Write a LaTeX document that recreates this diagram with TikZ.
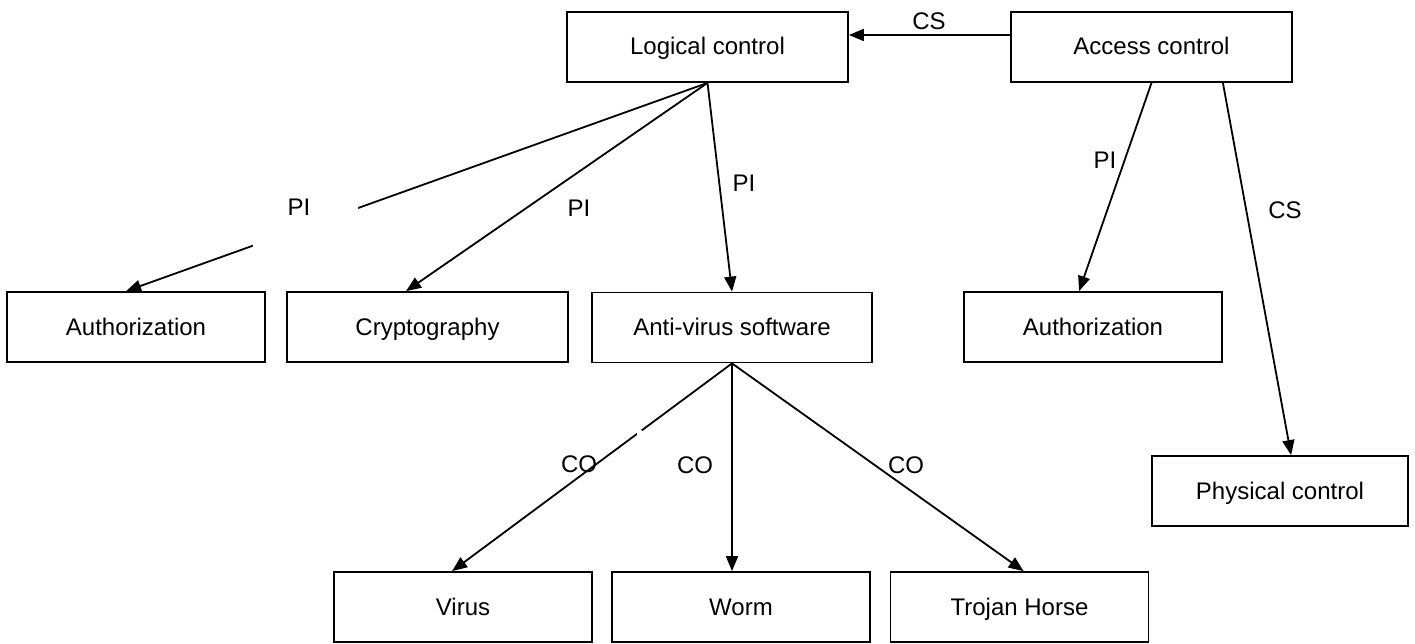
\documentclass[tikz,border=0pt]{standalone}
\usepackage{fontspec}
\setmainfont{Liberation Sans}
\usetikzlibrary{arrows.meta,calc}
\begin{document}
\begin{tikzpicture}[x=1pt,y=-1pt,
  box/.style={draw,line width=1.8pt,inner sep=0pt,minimum height=70pt,text height=19pt,text depth=3pt,font=\fontsize{24}{28}\selectfont},
  lbl/.style={inner sep=0pt,font=\fontsize{24}{28}\selectfont},
  arr/.style={line width=1.8pt,-{Triangle[length=15pt,width=12pt]}}]
\useasboundingbox[fill=white] (0,0) rectangle (1415,644);
% boxes
\node[box,minimum width=281pt] (lc) at (707.5,47) {Logical control};
\node[box,minimum width=281pt] (ac) at (1151.5,47) {Access control};
\node[box,minimum width=258pt] (aL) at (136,327) {Authorization};
\node[box,minimum width=281pt] (cr) at (427.5,327) {Cryptography};
\node[box,minimum width=280pt] (av) at (732,327.5) {Anti-virus software};
\node[box,minimum width=258pt] (aR) at (1093,327) {Authorization};
\node[box,minimum width=256pt] (pc) at (1280,491) {Physical control};
\node[box,minimum width=258pt] (vi) at (463,607) {Virus};
\node[box,minimum width=258pt] (wo) at (741,607) {Worm};
\node[box,minimum width=258pt] (tr) at (1019.5,607) {Trojan Horse};
% connectors
\coordinate (yCS) at (0,35);
\draw[arr] (ac.west |- yCS) -- (lc.east |- yCS);
\draw[arr] (lc.south) -- ($(aL.north west)+(120,0)$);
\fill[white] (253,175) rectangle (358,247);
\draw[arr] (lc.south) -- ($(cr.north west)+(120,0)$);
\draw[arr] (lc.south) -- (av.north);
\draw[arr] (ac.south) -- ($(aR.north west)+(116,0)$);
\draw[arr] ($(ac.south east)+(-70,0)$) -- ($(pc.north west)+(140,0)$);
\draw[arr] (av.south) -- ($(vi.north west)+(119,0)$);
\fill[white] (636.5,430) rectangle (641.5,435);
\draw[arr] (av.south) -- (av.south |- wo.north);
\draw[arr] (av.south) -- ($(tr.north west)+(134,0)$);
% labels
\node[lbl] (lCS1) at (929,21) {CS};
\node[lbl] (lPI1) at (299,207) {PI};
\node[lbl] (lPI2) at (579,208) {PI};
\node[lbl] (lPI3) at (744,183) {PI};
\node[lbl] (lPI4) at (1105,160) {PI};
\node[lbl] (lCS2) at (1285,210) {CS};
\node[lbl] (lCO1) at (579,464) {CO};
\node[lbl] (lCO2) at (695,465) {CO};
\node[lbl] (lCO3) at (906,465) {CO};
\end{tikzpicture}
\end{document}
